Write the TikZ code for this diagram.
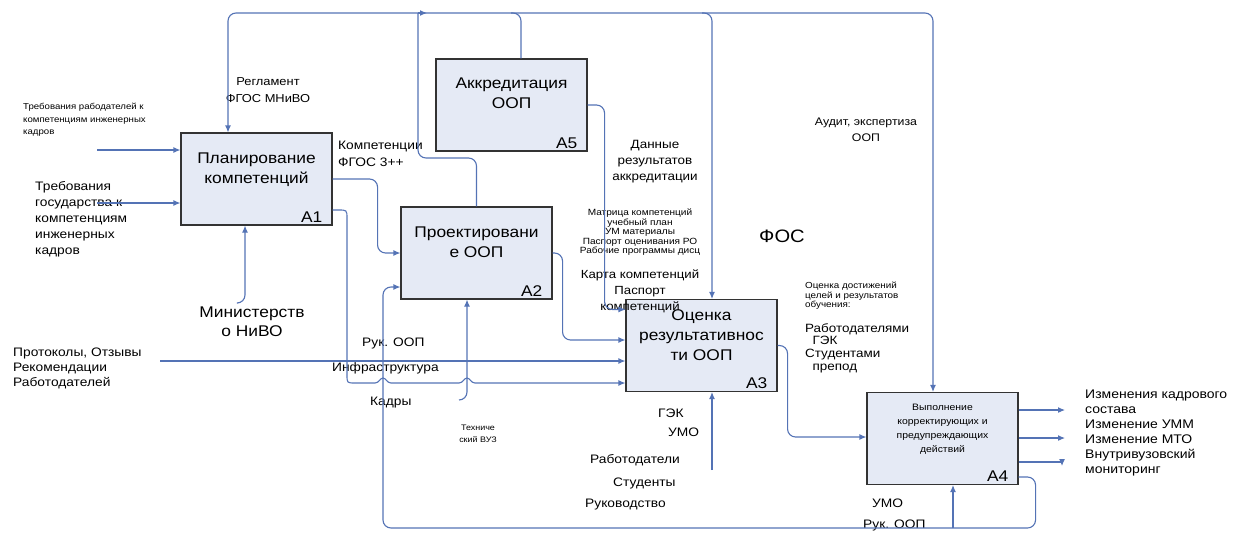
\documentclass[tikz,border=0pt]{standalone}
\usepackage{fontspec}
\setmainfont[FakeStretch=1.12]{Liberation Sans}
\usepackage{tikz}
\usetikzlibrary{arrows.meta,positioning,calc}
\definecolor{boxfill}{rgb}{0.9, 0.918, 0.96}
\definecolor{boxedge}{rgb}{0.2, 0.2, 0.2}
\definecolor{linkblue}{rgb}{0.33, 0.45, 0.71}
\newcommand{\setfs}[2]{\fontsize{#1}{#2}\selectfont}

\begin{document}
\begin{tikzpicture}[x=1pt, y=-1pt, >={Latex[length=7pt,width=6pt]},
    func/.style={draw=boxedge, fill=boxfill, line width=1.1pt, minimum width=151pt, minimum height=92pt},
    ftitle/.style={align=center, inner sep=0pt, font=\setfs{15.5}{20}},
    fnum/.style={anchor=south east, inner sep=0pt, font=\setfs{15.5}{18}},
    link/.style={draw=linkblue, line width=1.1pt, rounded corners=8pt},
    flow/.style={link, ->},
    txt/.style={align=left, inner sep=0pt, font=\setfs{12.3}{15}},
    small/.style={align=center, inner sep=0pt, font=\setfs{8.8}{11.5}}]
        \useasboundingbox (0,0) rectangle (1243,533);

        % Functions
        \node[func] (a1) at (256.5,179) {};
        \node[func] (a5) at (511.5,105) {};
        \node[func] (a2) at (476.5,253) {};
        \node[func] (a3) at (701.5,345.5) {};
        \node[func] (a4) at (942.5,438.5) {};

        \node[ftitle] (a1t) at ($(a1)+(0,-9)$) {Планирование\\компетенций};
        \node[ftitle] (a5t) at ($(a5)+(0,-12)$) {Аккредитация\\ООП};
        \node[ftitle] (a2t) at ($(a2)+(0,-11)$) {Проектировани\\е ООП};
        \node[ftitle] (a3t) at ($(a3)+(0,-10.5)$) {Оценка\\результативнос\\ти ООП};
        \node[ftitle, font=\setfs{9.3}{14}] (a4t) at ($(a4)+(0,-9.5)$) {Выполнение\\корректирующих и\\предупреждающих\\действий};

        \node[fnum] (a1n) at ($(a1.south east)+(-10,-3)$) {A1};
        \node[fnum] (a5n) at ($(a5.south east)+(-10,-3)$) {A5};
        \node[fnum] (a2n) at ($(a2.south east)+(-10,-3)$) {A2};
        \node[fnum] (a3n) at ($(a3.south east)+(-10,-3)$) {A3};
        \node[fnum] (a4n) at ($(a4.south east)+(-10,-3)$) {A4};

        % Labels
        \node[small, align=left, anchor=north west, font=\setfs{8.6}{12.5}] (reqemp) at (23,103) {Требования рабодателей к\\компетенциям инженерных\\кадров};
        \node[txt, anchor=north west, font=\setfs{12.3}{16}] (reqgov) at (35,181) {Требования\\государства к\\компетенциям\\инженерных\\кадров};
        \node[txt, align=center, anchor=north, font=\setfs{11.5}{17}] (regl) at (268,77) {Регламент\\ФГОС МНиВО};
        \node[txt, anchor=north west, font=\setfs{12.3}{17}] (comp) at (338,141) {Компетенции\\ФГОС 3++};
        \node[txt, align=center, anchor=north, font=\setfs{12}{16}] (accr) at (655,140) {Данные\\результатов\\аккредитации};
        \node[small, anchor=north, font=\setfs{9}{9.4}] (docs) at (640,209) {Матрица компетенций\\учебный план\\УМ материалы\\Паспорт оценивания РО\\Рабочие программы дисц};
        \node[txt, align=center, anchor=north, font=\setfs{11.8}{16}] (karta) at (640,270) {Карта компетенций\\Паспорт\\компетенций};
        \node[txt, font=\setfs{18}{20}] (fos) at (782,236) {ФОС};
        \node[txt, align=center, anchor=north, font=\setfs{11}{16}] (audit) at (866,118) {Аудит, экспертиза\\ООП};
        \node[small, align=left, anchor=north west, font=\setfs{8.8}{9.4}] (goals) at (805,282) {Оценка достижений\\целей и результатов\\обучения:};
        \node[txt, anchor=north west, font=\setfs{12}{12.8}] (judges) at (805,323) {Работодателями\\\ \ ГЭК\\Студентами\\\ \ препод};
        \node[txt, align=center, anchor=north, font=\setfs{15.5}{19}] (minist) at (252,307) {Министерств\\о НиВО};
        \node[txt, anchor=north west] (protok) at (13,348) {Протоколы, Отзывы\\Рекомендации\\Работодателей};
        \node[txt, anchor=west] (ruk1) at (362,343) {Рук. ООП};
        \node[txt, anchor=west] (infra) at (332,368) {Инфраструктура};
        \node[txt, anchor=west] (kadry) at (370,403) {Кадры};
        \node[small, font=\setfs{8}{11.5}] (tech) at (478,434) {Техниче\\ский ВУЗ};
        \node[txt, anchor=west] (gek) at (658,413) {ГЭК};
        \node[txt, anchor=west] (umo1) at (668,432) {УМО};
        \node[txt, anchor=west] (empl) at (590,460) {Работодатели};
        \node[txt, anchor=west] (stud) at (613,483) {Студенты};
        \node[txt, anchor=west] (mgmt) at (585,505) {Руководство};
        \node[txt, anchor=west] (umo2) at (872,503) {УМО};
        \node[txt, anchor=west] (ruk2) at (863,525) {Рук. ООП};
        \node[txt, anchor=north west, font=\setfs{12.5}{15}] (outs) at (1085,390) {Изменения кадрового\\состава\\Изменение УММ\\Изменение МТО\\Внутривузовский\\мониторинг};

        % Inputs
        \coordinate (req1) at (97,150);
        \coordinate (req2) at (97,203);
        \coordinate (prot) at (160,361);
        \draw[flow] (req1) -- (req1 -| a1.west);
        \draw[flow] (req2) -- (req2 -| a1.west);
        \draw[flow] (prot) -- (prot -| a3.west);

        % Controls
        \coordinate (bus) at (0,13);
        \coordinate (a1ctl) at ($(a1.north)+(-28.5,0)$);
        \coordinate (a5top) at ($(a5.north)+(9.5,0)$);
        \coordinate (a3ctl) at ($(a3.north)+(10.5,0)$);
        \coordinate (a4ctl) at ($(a4.north)+(-9.5,0)$);
        \coordinate (fb) at (418,158);
        \draw[flow, <->] (a1ctl) |- (a5top |- bus) -| (a4ctl);
        \draw[link] (a5top) |- ($(a5top |- bus)+(-10,0)$);
        \draw[flow] ($(a3ctl |- bus)+(-10,0)$) -| (a3ctl);
        \draw[link] (a2.north) |- (fb) -- (fb |- bus);
        \draw[flow] (fb |- bus) -- ++(9,0);

        % Outputs
        \draw[flow] (a1.east) -- ++(45,0) |- (a2.west);
        \draw[flow, sharp corners] ($(a1.east)+(0,31)$) -- ++(6,0)
            .. controls ++(8,0) and ++(0,-8) .. (347,218) -- (347,375)
            .. controls (347,383) .. (355,383) -- (375,383)
            .. controls (379,383) and (380,378) .. (383,378)
            .. controls (386,378) and (387,383) .. (391,383) -- (459,383)
            .. controls (463,383) and (464,378) .. (467,378)
            .. controls (470,378) and (471,383) .. (475,383)
            -- ($(a3.west)+(0,37.5)$);
        \draw[flow] (a2.east) -- ++(10,0) |- ($(a3.west)+(0,-5.5)$);
        \draw[flow] (a5.east) -- ++(17,0) |- ($(a3.west)+(0,-36)$);
        \draw[flow] (a3.east) -- ++(10,0) |- ($(a4.west)+(0,-1.5)$);

        \coordinate (out1) at (1065,410);
        \coordinate (out2) at (1065,438);
        \coordinate (out3) at (1062,462);
        \draw[flow] (out1 -| a4.east) -- (out1);
        \draw[flow] (out2 -| a4.east) -- (out2);
        \draw[flow, sharp corners] (out3 -| a4.east) -| ($(out3)+(0,4)$);

        % Mechanisms
        \coordinate (a1mech) at (238,303);
        \coordinate (a2mech) at (459,400);
        \coordinate (a3mech) at (712,470);
        \coordinate (a4mech) at ($(a4.south)+(10.5,0)$);
        \coordinate (loop) at (383,528);
        \draw[flow] (a1mech) -| ($(a1.south)+(-11.5,0)$);
        \draw[flow] (a2mech) -| ($(a2.south)+(-9.5,0)$);
        \draw[flow] (a3mech) -- (a3mech |- a3.south);
        \draw[flow] ($(a4.east)+(0,38.5)$) -- ++(17,0) |- (loop) |- ($(a2.west)+(0,34)$);
        \draw[flow] (loop -| a4mech) -- (a4mech);

    \end{tikzpicture}
\end{document}
